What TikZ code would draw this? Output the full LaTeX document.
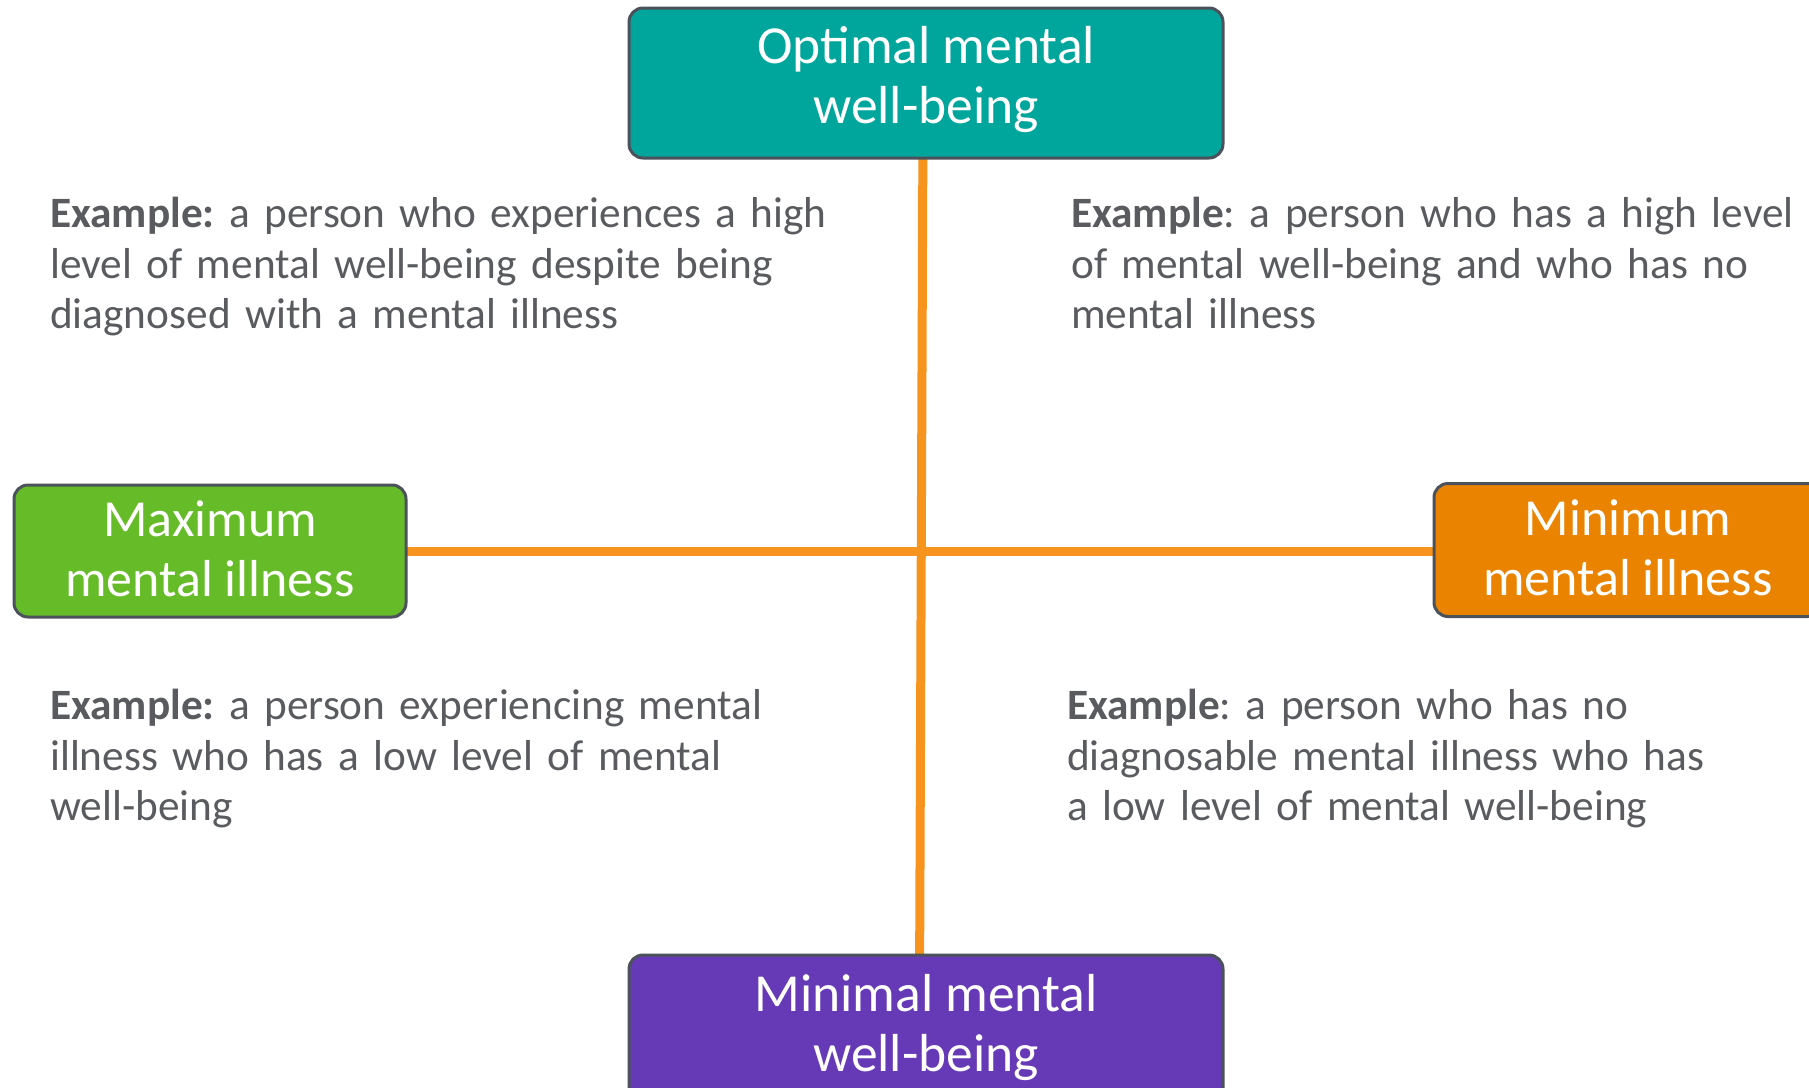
\documentclass[tikz,border=0pt]{standalone}
\usepackage{fontspec}
\setmainfont{Carlito}
\usetikzlibrary{backgrounds}
\definecolor{boxTeal}{HTML}{00A59B}
\definecolor{boxGreen}{HTML}{66BB28}
\definecolor{boxOrange}{HTML}{E98300}
\definecolor{boxPurple}{HTML}{6639B6}
\definecolor{axisOrange}{HTML}{F7941D}
\definecolor{edgeGray}{HTML}{4B525B}
\definecolor{txtGray}{HTML}{595B5E}
\newcommand{\exsetup}{\fontsize{43.3}{50.5}\selectfont\spaceskip=8pt plus 1pt minus 1pt\relax\frenchspacing}
\begin{document}
\frenchspacing
\begin{tikzpicture}[x=1pt,y=-1pt,
  box/.style={draw=edgeGray, line width=3pt, rounded corners=14pt, inner sep=0pt},
  boxtext/.style={text=white, align=center, inner sep=0pt, font=\fontsize{52}{60}\selectfont},
  bigboxtext/.style={boxtext, font=\fontsize{53.5}{60}\selectfont},
  axis/.style={draw=axisOrange, line width=9pt},
  example/.style={text=txtGray, align=left, anchor=base west, inner sep=0pt,
    text width=800pt, font=\exsetup}]
\useasboundingbox (0,0) rectangle (1809,1087);
\clip (0,0) rectangle (1809,1087);
% boxes
\node[box, fill=boxTeal, minimum width=594pt, minimum height=150pt] (top) at (926,83) {};
\node[bigboxtext] (topT) at (926,79.5) {Optimal mental\\well-being};
\node[box, fill=boxGreen, minimum width=392pt, minimum height=132pt] (left) at (210,551) {};
\node[boxtext] (leftT) at (210,548.5) {Maximum\\mental illness};
\node[box, fill=boxOrange, minimum width=388pt, minimum height=133pt] (right) at (1628,550) {};
\node[boxtext] (rightT) at (1628,548) {Minimum\\mental illness};
\node[box, fill=boxPurple, minimum width=594pt, minimum height=150pt] (bottom) at (926,1030) {};
\node[bigboxtext] (bottomT) at (926,1027.5) {Minimal mental\\well-being};
% axes
\coordinate (vtop) at (923,120);
\coordinate (vbot) at (919.5,990);
\begin{scope}[on background layer]
\draw[axis] (vtop) -- (vbot);
\draw[axis] (left.center) -- (left.center -| right.center);
\end{scope}
% examples
\node[example] (tl) at (50,227.5) {\textbf{Example:} a person who experiences a high\\level of mental well-being despite being\\diagnosed with a mental illness};
\node[example] (tr) at (1071,227.5) {\textbf{Example}: a person who has a high level\\of mental well-being and who has no\\mental illness};
\node[example] (bl) at (50,719.5) {\textbf{Example:} a person experiencing mental\\illness who has a low level of mental\\well-being};
\node[example] (br) at (1067,719.5) {\textbf{Example}: a person who has no\\diagnosable mental illness who has\\a low level of mental well-being};
\end{tikzpicture}
\end{document}
